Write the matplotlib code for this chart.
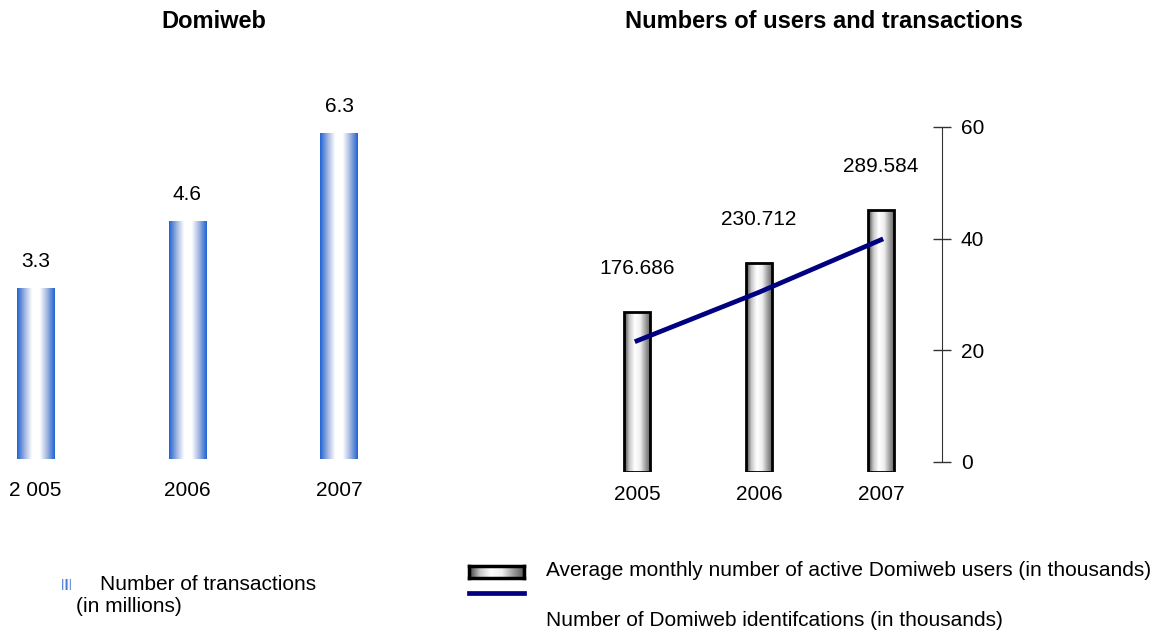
import numpy as np
import matplotlib
matplotlib.use('Agg')
import matplotlib.pyplot as plt
from matplotlib.colors import LinearSegmentedColormap
from matplotlib.lines import Line2D

plt.rcParams['font.family'] = ['Liberation Sans', 'DejaVu Sans']

# left chart: transactions (in millions)
years_left = ['2 005', '2006', '2007']
transactions = [3.3, 4.6, 6.3]

# right chart: users (bars, thousands) and identifications (line, thousands)
years_right = ['2005', '2006', '2007']
users = [176.686, 230.712, 289.584]
users_labels = ['176.686', '230.712', '289.584']
identifications = [21.7, 30.4, 39.8]
right_ticks = [0, 20, 40, 60]

blue_cmap = LinearSegmentedColormap.from_list(
    'blue_grad', ['#1f63d2', '#9fb3e0', '#ffffff', '#ffffff', '#9fb3e0', '#1f63d2'])
gray_cmap = LinearSegmentedColormap.from_list(
    'gray_grad', ['#3c3c3c', '#c8c8c8', '#ffffff', '#f0f0f0', '#a0a0a0', '#5a5a5a'])
grad = np.linspace(0, 1, 256).reshape(1, -1)


def fill_gradient(ax, patches, cmap):
    """Paint a horizontal gradient inside each bar patch."""
    for p in patches:
        x0, y0 = p.get_x(), p.get_y()
        w, h = p.get_width(), p.get_height()
        im = ax.imshow(grad, cmap=cmap, aspect='auto', extent=[x0, x0 + w, y0, y0 + h],
                       zorder=p.get_zorder() - 0.1, interpolation='bilinear')
        im.set_clip_path(p)


fig = plt.figure(figsize=(11.75, 6.32), dpi=100)
W, H = 1175, 632
FS = 15

### left chart ###
ax1 = fig.add_axes([0, (H - 459) / H, 400 / W, 388.5 / H])
x1 = np.arange(len(years_left))
bars1 = ax1.bar(x1, transactions, width=0.247, facecolor='none', edgecolor='none', zorder=2)
fill_gradient(ax1, bars1, blue_cmap)
ax1.set_xlim(-35.5 / 151.75, (400 - 35.5) / 151.75)
ax1.set_ylim(0, 7.5)
for xi, v in zip(x1, transactions):
    ax1.annotate(f'{v:.1f}', (xi, v), xytext=(0, 17), textcoords='offset pixels',
                 ha='center', va='bottom', fontsize=FS)
    ax1.annotate(years_left[xi], (xi, 0), xytext=(0, -32), textcoords='offset pixels',
                 ha='center', va='center', fontsize=FS)
ax1.axis('off')
fig.text(214 / W, 1 - 21 / H, 'Domiweb', ha='center', va='center', fontsize=17, fontweight='bold')

### right chart ###
ax2 = fig.add_axes([560 / W, (H - 472) / H, 382 / W, 345 / H])
x2 = np.arange(len(years_right))
bars2 = ax2.bar(x2, users, width=0.22, facecolor='none', edgecolor='black', linewidth=2, zorder=3)
fill_gradient(ax2, bars2, gray_cmap)
ax2.set_xlim(-77 / 122, 305 / 122)
ax2.set_ylim(0, 345 / 0.9056)
for xi, v, lab in zip(x2, users, users_labels):
    ax2.annotate(lab, (xi, v), xytext=(0, 34), textcoords='offset pixels',
                 ha='center', va='bottom', fontsize=FS)
    ax2.annotate(years_right[xi], (xi, 0), xytext=(0, -22), textcoords='offset pixels',
                 ha='center', va='center', fontsize=FS)
ax2.set_xticks([])
ax2.set_yticks([])
for s in ['top', 'left', 'bottom', 'right']:
    ax2.spines[s].set_visible(False)

ax3 = ax2.twinx()
ax3.plot(x2, identifications, color='#000080', linewidth=3.4, zorder=5)
ax3.set_ylim(-10 / 5.583, 60)
ax3.set_yticks(right_ticks)
ax3.tick_params(axis='y', direction='inout', length=13, width=1, colors='#333333',
                labelcolor='black', labelsize=FS, pad=7)
for s in ['top', 'left', 'bottom']:
    ax3.spines[s].set_visible(False)
ax3.spines['right'].set_bounds(0, 60)
ax3.spines['right'].set_color('#333333')
fig.text(824 / W, 1 - 21 / H, 'Numbers of users and transactions', ha='center', va='center',
         fontsize=17, fontweight='bold')

### legends ###
lg1 = fig.add_axes([62 / W, 1 - 590 / H, 9 / W, 11 / H])
lg1.imshow(np.tile(grad, (1, 2)), cmap=blue_cmap, aspect='auto', extent=[0, 1, 0, 1])
lg1.axis('off')
fig.text(100 / W, 1 - 584 / H, 'Number of transactions', ha='left', va='center', fontsize=FS)
fig.text(76 / W, 1 - 607 / H, '(in millions)', ha='left', va='center', fontsize=FS)

lg2 = fig.add_axes([469 / W, 1 - 578 / H, 55 / W, 12 / H])
lg2.imshow(grad, cmap=gray_cmap, aspect='auto', extent=[0, 1, 0, 1])
for s in lg2.spines.values():
    s.set_linewidth(2.5)
lg2.set_xticks([])
lg2.set_yticks([])
fig.text(546 / W, 1 - 571 / H, 'Average monthly number of active Domiweb users (in thousands)',
         ha='left', va='center', fontsize=FS)
fig.add_artist(Line2D([469 / W, 524 / W], [1 - 593 / H, 1 - 593 / H], color='#000080', linewidth=3.4))
fig.text(546 / W, 1 - 620 / H, 'Number of Domiweb identifcations (in thousands)',
         ha='left', va='center', fontsize=FS)

fig.savefig('out.png', dpi=100)
